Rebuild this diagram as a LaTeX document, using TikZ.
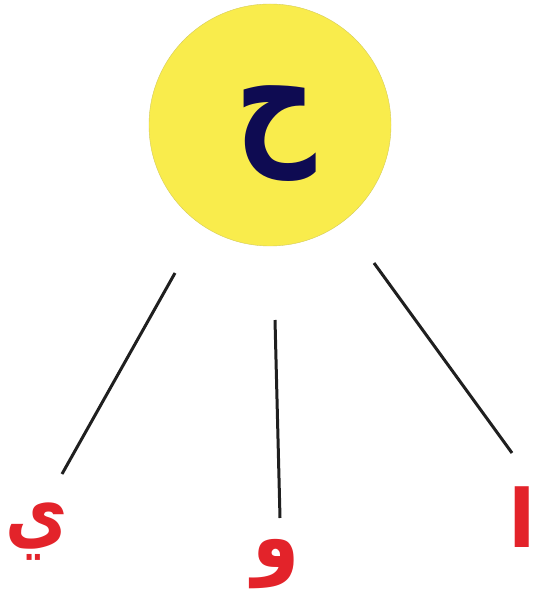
\documentclass[tikz,border=0pt]{standalone}
\usepackage{fontspec}
\usepackage{graphicx}
\usepackage{xcolor}
\usepackage{tikz}
\usetikzlibrary{positioning}
\TeXXeTstate=1
\newfontfamily\arabicfont[Script=Arabic]{DejaVu Sans}
\definecolor{sunyellow}{HTML}{F9EC4C}
\definecolor{inkblue}{HTML}{0E0B52}
\definecolor{letterred}{HTML}{E3232A}
\newcommand{\tallletter}[2]{\scalebox{1}[#1]{\beginR #2\endR}}

\begin{document}
\begin{tikzpicture}[x=1pt,y=-1pt,
  root/.style={circle,fill=sunyellow,draw=sunyellow!70!gray,line width=0.4pt,minimum size=242pt,inner sep=0pt},
  rootletter/.style={text=inkblue,font=\arabicfont\bfseries\fontsize{112}{112}\selectfont,inner sep=0pt},
  leaf/.style={text=letterred,font=\arabicfont\bfseries\fontsize{#1}{#1}\selectfont,inner sep=0pt},
  branch/.style={line width=3pt,draw=black!88}]
  \useasboundingbox (0,0) rectangle (535,593);
  \node[root] (hah) at (270,125) {};
  \node[rootletter] (hahtext) at (276,134) {\tallletter{1.28}{ح}};
  \node[leaf=68] (ya) at (37,532) {\tallletter{1.2}{ي}};
  \node[leaf=76] (waw) at (276,564) {\tallletter{1.15}{و}};
  \node[leaf=80] (alif) at (522,517) {\tallletter{1}{ا}};
  \coordinate (ya-top) at (175,273);
  \coordinate (ya-end) at (62,474);
  \coordinate (waw-top) at (275,320);
  \coordinate (waw-end) at (280,518);
  \coordinate (alif-top) at (374,263);
  \coordinate (alif-end) at (512,453);
  \foreach \a/\b in {ya-top/ya-end,waw-top/waw-end,alif-top/alif-end} \draw[branch] (\a) -- (\b);
\end{tikzpicture}
\end{document}
